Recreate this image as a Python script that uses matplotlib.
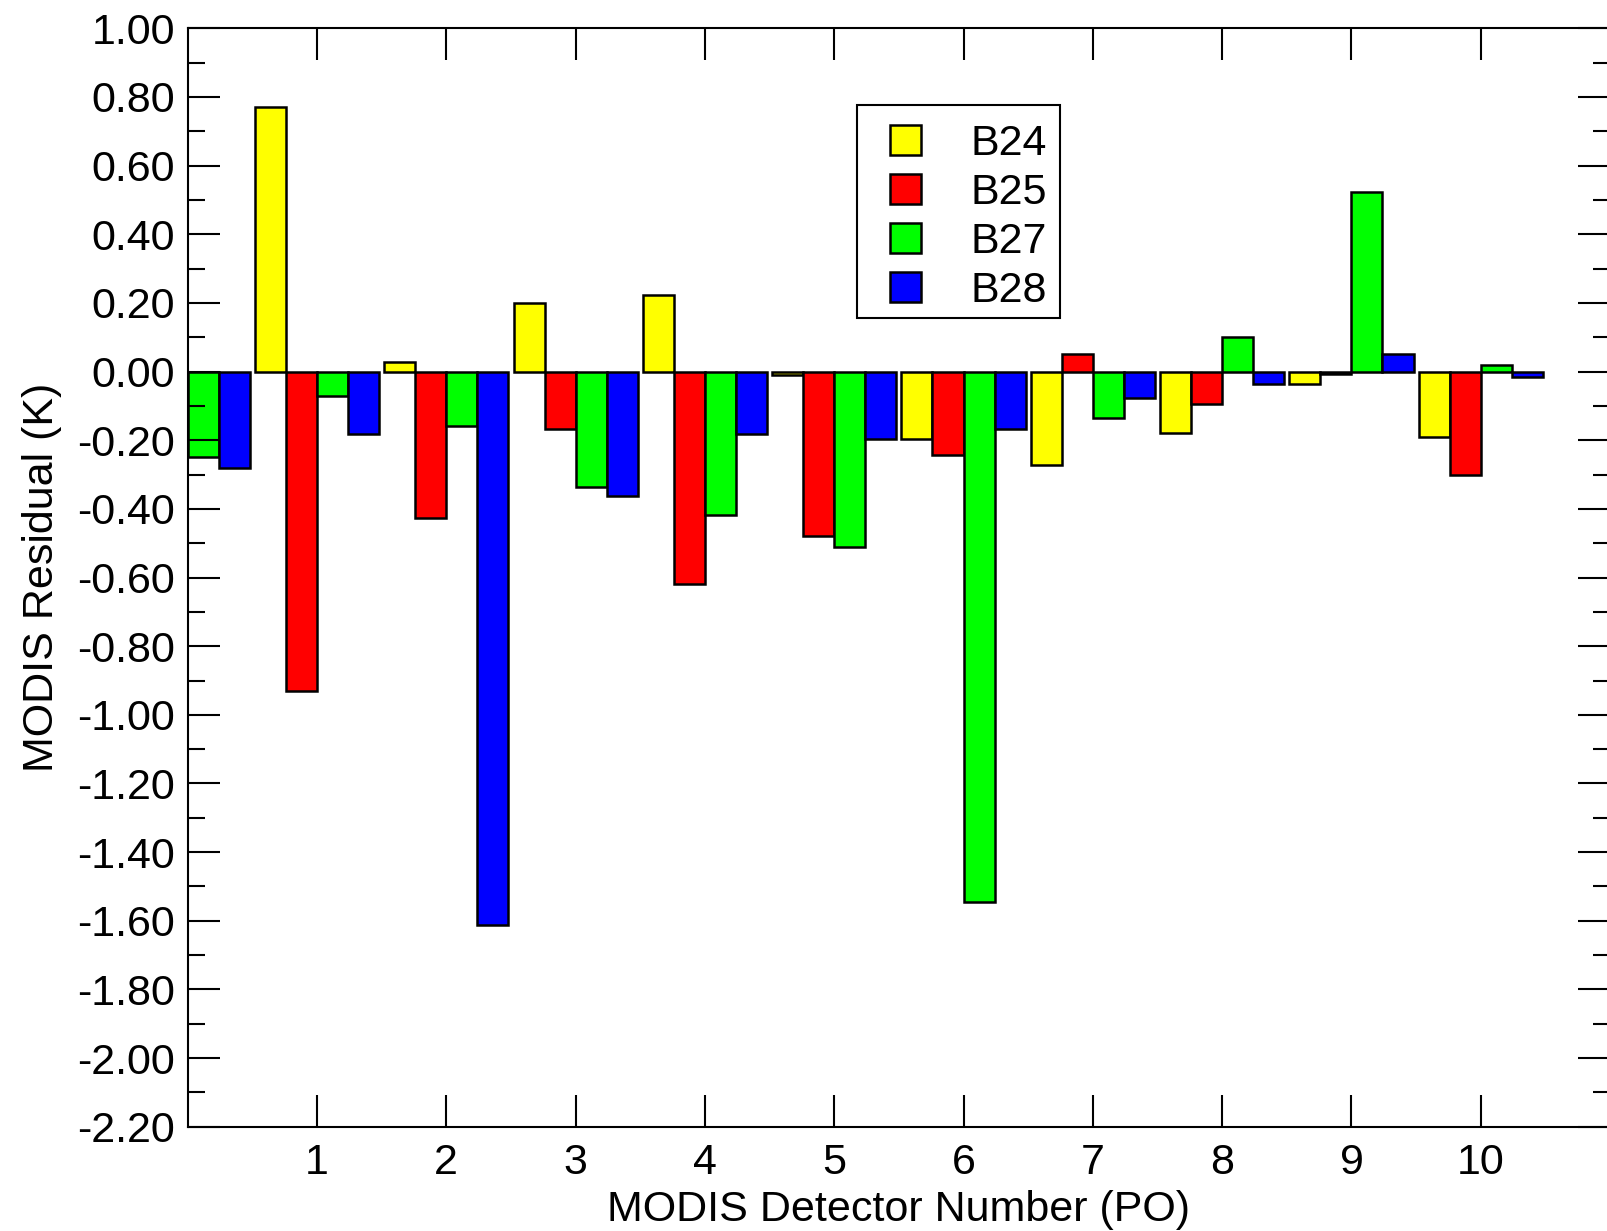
import numpy as np
import matplotlib
matplotlib.use('Agg')
import matplotlib.pyplot as plt
from matplotlib.patches import Patch, Rectangle
from matplotlib.legend_handler import HandlerPatch
from matplotlib.ticker import MultipleLocator, FormatStrFormatter

plt.rcParams['font.family'] = ['Liberation Sans', 'DejaVu Sans']

# detector index 0..10 (group 0 only partly visible at the left edge)
detectors = np.arange(0, 11)
b24 = [np.nan, 0.77, 0.028, 0.20, 0.223, -0.01, -0.197, -0.272, -0.18, -0.035, -0.19]
b25 = [np.nan, -0.93, -0.428, -0.168, -0.62, -0.48, -0.243, 0.05, -0.095, -0.007, -0.30]
b27 = [-0.248, -0.071, -0.158, -0.337, -0.419, -0.51, -1.545, -0.136, 0.10, 0.524, 0.02]
b28 = [-0.28, -0.182, -1.613, -0.362, -0.182, -0.197, -0.167, -0.076, -0.035, 0.05, -0.015]

series = [('B24', b24, '#ffff00'), ('B25', b25, '#ff0000'),
          ('B27', b27, '#00ff00'), ('B28', b28, '#0000ff')]

FS = 31
W, H = 1607, 1231

fig = plt.figure(figsize=(W / 100, H / 100), dpi=100)
ax = fig.add_axes([0.1168, 0.0847, 0.8851, 0.8923])

width = 0.24
offsets = [-0.48, -0.24, 0.0, 0.24]
for (name, vals, col), off in zip(series, offsets):
    ax.bar(detectors + off, vals, width=width, align='edge', color=col,
           edgecolor='black', linewidth=1.8, zorder=2)

ax.set_xlim(0, 11)
ax.set_ylim(-2.2, 1.0)
ax.set_xticks(range(1, 11))
ax.yaxis.set_major_locator(MultipleLocator(0.2))
ax.yaxis.set_minor_locator(MultipleLocator(0.1))
ax.yaxis.set_major_formatter(FormatStrFormatter('%.2f'))

ax.tick_params(axis='both', which='major', direction='in', length=23, width=1.5,
               labelsize=FS, top=True, right=True)
ax.tick_params(axis='y', which='major', pad=9)
ax.tick_params(axis='x', which='major', pad=12)
ax.tick_params(axis='y', which='minor', direction='in', length=12, width=1.5,
               right=True)
for s in ax.spines.values():
    s.set_linewidth(1.5)
    s.set_zorder(3)
ax.set_axisbelow(False)

ax.set_xlabel('MODIS Detector Number (PO)', fontsize=FS, labelpad=5)
ax.set_ylabel('MODIS Residual (K)', fontsize=FS, labelpad=11)


# legend square sits at the right end of the handle box
def square(legend, orig_handle, xdescent, ydescent, width, height, fontsize):
    return Rectangle((-xdescent + width - height, -ydescent), height, height)


handles = [Patch(facecolor=c, edgecolor='black', linewidth=1.8, label=n)
           for n, _, c in series]
leg = ax.legend(handles=handles, loc='upper left',
                bbox_to_anchor=(857 / W, 1 - 111 / H),
                bbox_transform=fig.transFigure, fontsize=FS,
                handler_map={Patch: HandlerPatch(patch_func=square)},
                handlelength=1.19, handleheight=0.72, handletextpad=1.14,
                labelspacing=0.21, borderpad=0.3, borderaxespad=0,
                frameon=False)
leg.set_zorder(6)

# legend box drawn separately, below the legend entries
box = Rectangle((857 / W, 1 - 318 / H), (1060 - 857) / W, (318 - 105) / H,
                transform=fig.transFigure, facecolor='white',
                edgecolor='black', linewidth=1.5, zorder=5, clip_on=False)
ax.add_patch(box)

plt.savefig('out.png', dpi=100)
